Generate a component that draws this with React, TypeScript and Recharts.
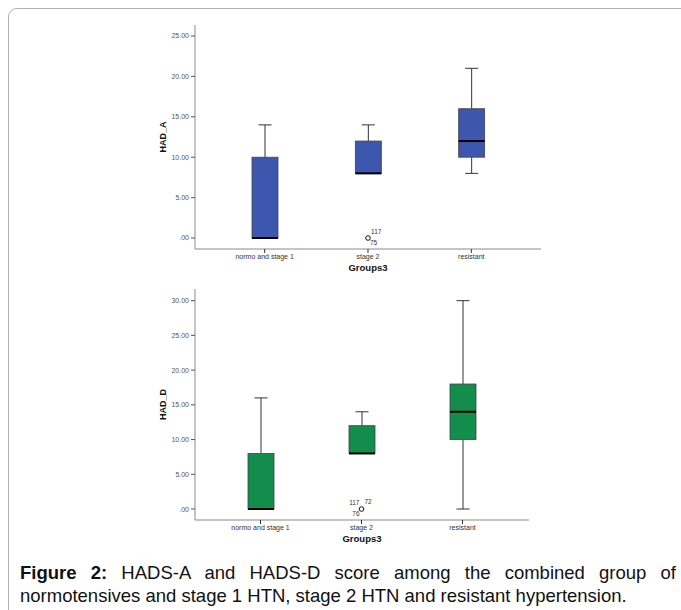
import { Bar, ComposedChart, Scatter, XAxis, YAxis } from "recharts";

const groups = ["normo and stage 1", "stage 2", "resistant"];

// HAD_A (anxiety)
const anxMin = [0, 8, 8];
const anxQ1 = [0, 8, 10];
const anxMedian = [0, 8, 12];
const anxQ3 = [10, 12, 16];
const anxMax = [14, 14, 21];
const anxOutlier = [null, 0, null];
const anxOutlierIds = [[], ["117", "75"], []];
const anxTicks = [0, 5, 10, 15, 20, 25];
const anxDomain = [-1.36, 26.36];

// HAD_D (depression)
const depMin = [0, 8, 0];
const depQ1 = [0, 8, 10];
const depMedian = [0, 8, 14];
const depQ3 = [8, 12, 18];
const depMax = [16, 14, 30];
const depOutlier = [null, 0, null];
const depOutlierIds = [[], ["117", "72", "76"], []];
const depTicks = [0, 5, 10, 15, 20, 25, 30];
const depDomain = [-1.58, 31.68];

const FONT = '"Liberation Sans", Arial, sans-serif';
const FRAME = "#8a8a8a";

function buildRows(
  min: number[], q1: number[], med: number[], q3: number[], max: number[],
  outlier: (number | null)[], ids: string[][],
) {
  return groups.map((g, i) => ({
    group: g,
    range: [min[i], max[i]],
    min: min[i],
    q1: q1[i],
    median: med[i],
    q3: q3[i],
    max: max[i],
    outlier: outlier[i],
    ids: ids[i],
  }));
}

// draws whiskers, box and median inside the [min, max] bar the library placed
function BoxShape(props: any) {
  const { x, y, width, height, payload, fill } = props;
  const lo = payload.min;
  const hi = payload.max;
  if (hi === lo) return null;
  const unit = height / (hi - lo);
  const base = y + height;
  const py = (v: number) => base - (v - lo) * unit;
  const cx = x + width / 2;
  const cap = width / 4;
  return (
    <g>
      <line x1={cx} x2={cx} y1={py(payload.max)} y2={py(payload.q3)} stroke="#333" strokeWidth={1} />
      <line x1={cx} x2={cx} y1={py(payload.q1)} y2={py(payload.min)} stroke="#333" strokeWidth={1} />
      {payload.max > payload.q3 && (
        <line x1={cx - cap} x2={cx + cap} y1={py(payload.max)} y2={py(payload.max)} stroke="#333" strokeWidth={1} />
      )}
      {payload.min < payload.q1 && (
        <line x1={cx - cap} x2={cx + cap} y1={py(payload.min)} y2={py(payload.min)} stroke="#333" strokeWidth={1} />
      )}
      <rect
        x={x}
        y={py(payload.q3)}
        width={width}
        height={py(payload.q1) - py(payload.q3)}
        fill={fill}
        stroke="#444"
        strokeWidth={0.8}
      />
      <line x1={x} x2={x + width} y1={py(payload.median)} y2={py(payload.median)} stroke="#000" strokeWidth={2} />
    </g>
  );
}

// label offsets around an outlier circle, by how many ids are stacked there
const idSpots: Record<number, { dx: number; dy: number; anchor: string }[]> = {
  2: [
    { dx: 3, dy: -4, anchor: "start" },
    { dx: 2, dy: 7, anchor: "start" },
  ],
  3: [
    { dx: -2, dy: -4, anchor: "end" },
    { dx: 3, dy: -5, anchor: "start" },
    { dx: -2, dy: 7, anchor: "end" },
  ],
};

function OutlierShape(props: any) {
  const { cx, cy, payload } = props;
  if (payload == null || payload.outlier == null || !Number.isFinite(cy)) return null;
  const spots = idSpots[payload.ids.length] || [];
  return (
    <g>
      <circle cx={cx} cy={cy} r={2.3} fill="none" stroke="#111" strokeWidth={1} />
      {payload.ids.map((id: string, i: number) => (
        <text
          key={id + i}
          x={cx + (spots[i]?.dx ?? 3)}
          y={cy + (spots[i]?.dy ?? 0)}
          textAnchor={spots[i]?.anchor ?? "start"}
          fontSize={6.5}
          fontFamily={FONT}
          fill="#333"
        >
          {id}
        </text>
      ))}
    </g>
  );
}

const yFmt = (v: number) => (v === 0 ? ".00" : v.toFixed(2));

function BoxChart({
  rows, ticks, domain, yLabel, color, width, height, pad,
}: {
  rows: any[]; ticks: number[]; domain: number[]; yLabel: string; color: string;
  width: number; height: number; pad: { left: number; right: number };
}) {
  return (
    <ComposedChart
      width={width}
      height={height}
      data={rows}
      margin={{ top: 10, right: 10, bottom: 5, left: 10 }}
      style={{ fontFamily: FONT }}
    >
      <XAxis
        dataKey="group"
        type="category"
        interval={0}
        height={24}
        padding={pad}
        tickSize={4}
        tickMargin={1}
        tick={{ fontSize: 7, fill: "#333" }}
        tickLine={{ stroke: "#333" }}
        axisLine={{ stroke: FRAME }}
        label={{ value: "Groups3", position: "insideBottom", offset: 2, fontSize: 9.5, fontWeight: "bold", fill: "#111" }}
      />
      <XAxis
        xAxisId="top"
        dataKey="group"
        orientation="top"
        height={0}
        padding={pad}
        tick={false}
        tickLine={false}
        axisLine={{ stroke: FRAME }}
      />
      <YAxis
        type="number"
        domain={domain}
        ticks={ticks}
        allowDataOverflow
        width={45}
        tickSize={4}
        tickMargin={2}
        tickFormatter={yFmt}
        tick={{ fontSize: 7, fill: "#555" }}
        tickLine={{ stroke: "#555" }}
        axisLine={{ stroke: FRAME }}
        label={{
          value: yLabel,
          angle: -90,
          position: "insideLeft",
          offset: 13,
          fontSize: 9,
          fontWeight: "bold",
          fill: "#111",
          style: { textAnchor: "middle" },
        }}
      />
      <YAxis
        yAxisId="right"
        orientation="right"
        type="number"
        domain={domain}
        allowDataOverflow
        width={0}
        tick={false}
        tickLine={false}
        axisLine={{ stroke: FRAME }}
      />
      <Bar dataKey="range" barSize={26} fill={color} shape={<BoxShape />} isAnimationActive={false} />
      <Scatter dataKey="outlier" shape={<OutlierShape />} isAnimationActive={false} />
    </ComposedChart>
  );
}

export default function App() {
  const anxRows = buildRows(anxMin, anxQ1, anxMedian, anxQ3, anxMax, anxOutlier, anxOutlierIds);
  const depRows = buildRows(depMin, depQ1, depMedian, depQ3, depMax, depOutlier, depOutlierIds);
  return (
    <div style={{ position: "absolute", left: 0, top: 0, width: 681, height: 610, overflow: "hidden", background: "#fff" }}>
      <div
        style={{
          position: "absolute",
          left: 8,
          top: 8,
          width: 700,
          height: 640,
          border: "1.5px solid #b0b0b0",
          borderTopLeftRadius: 9,
        }}
      />
      <div style={{ position: "absolute", left: 140, top: 15 }}>
        <BoxChart
          rows={anxRows}
          ticks={anxTicks}
          domain={anxDomain}
          yLabel="HAD_A"
          color="#3d56ae"
          width={411}
          height={263}
          pad={{ left: 18, right: 18 }}
        />
      </div>
      <div style={{ position: "absolute", left: 140, top: 279 }}>
        <BoxChart
          rows={depRows}
          ticks={depTicks}
          domain={depDomain}
          yLabel="HAD_D"
          color="#128d4b"
          width={399}
          height={270}
          pad={{ left: 15, right: 16 }}
        />
      </div>
      <div
        style={{
          position: "absolute",
          left: 20,
          top: 561,
          width: 656,
          fontFamily: FONT,
          fontSize: 18.5,
          lineHeight: "23px",
          textAlign: "justify",
          color: "#111",
        }}
      >
        <b style={{ fontFamily: '"Liberation Sans Narrow", "Liberation Sans", Arial, sans-serif' }}>Figure 2:</b> HADS-A and
        HADS-D score among the combined group of normotensives and stage 1 HTN, stage 2 HTN and resistant hypertension.
      </div>
    </div>
  );
}
